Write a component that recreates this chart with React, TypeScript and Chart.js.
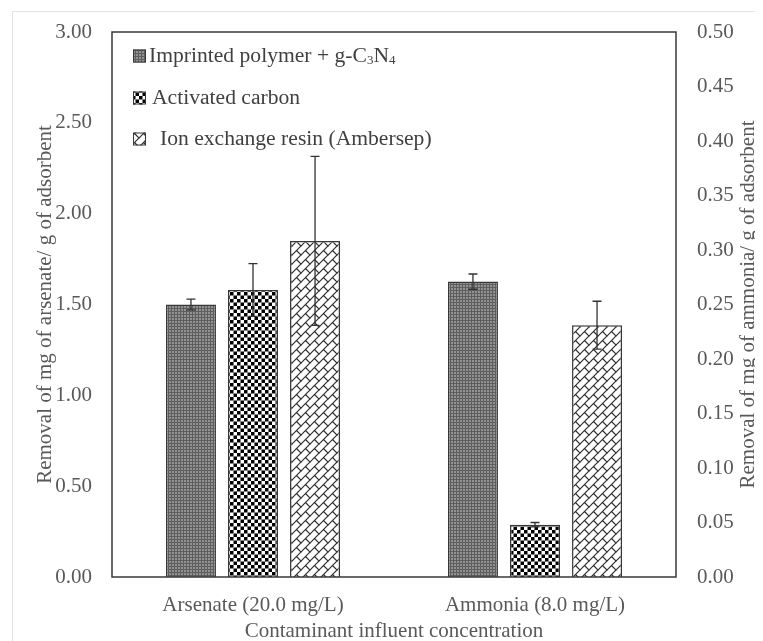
import React, { useEffect, useRef } from 'react';
import { Chart, registerables } from 'chart.js';

Chart.register(...registerables);

// ---- data ----
const categories = ['Arsenate (20.0 mg/L)', 'Ammonia (8.0 mg/L)'];
const seriesNames = ['Imprinted polymer + g-C₃N₄', 'Activated carbon', 'Ion exchange resin (Ambersep)'];
const arsenateValues = [1.5, 1.58, 1.85];
const arsenateErrors = [0.03, 0.145, 0.465];
const ammoniaValues = [0.271, 0.048, 0.231];
const ammoniaErrors = [0.007, 0.002, 0.022];
const leftAxisTitle = 'Removal of mg of arsenate/ g of adsorbent';
const rightAxisTitle = 'Removal of mg of ammonia/ g of adsorbent';
const xAxisTitle = 'Contaminant influent concentration';
const leftAxisMax = 3;
const leftAxisStep = 0.5;
const rightAxisMax = 0.5;
const rightAxisStep = 0.05;

// ---- style ----
const FONT = "'Liberation Serif', 'Times New Roman', serif";
const FONT_SIZE = 21;
const LEGEND_FONT_SIZE = 21.6;
const TEXT = '#595959';
const LEGEND_TEXT = '#404040';
const OUTLINE = '#383838';
const legendRowOffsets = [24, 66, 107];
const legendTextIndent = [0, 3, 11];

function tile(size: number, draw: (c: CanvasRenderingContext2D) => void): CanvasPattern {
  const cv = document.createElement('canvas');
  cv.width = size;
  cv.height = size;
  const c = cv.getContext('2d')!;
  draw(c);
  const ctx = document.createElement('canvas').getContext('2d')!;
  return ctx.createPattern(cv, 'repeat')!;
}

function greyPattern() {
  return tile(3, (c) => {
    c.fillStyle = '#5e5e5e';
    c.fillRect(0, 0, 3, 3);
    c.fillStyle = '#929292';
    c.fillRect(0, 0, 2, 2);
  });
}

function checkerPattern() {
  return tile(7, (c) => {
    c.fillStyle = '#ffffff';
    c.fillRect(0, 0, 7, 7);
    c.fillStyle = '#000000';
    c.fillRect(0, 0, 3.5, 3.5);
    c.fillRect(3.5, 3.5, 3.5, 3.5);
  });
}

function brickPattern() {
  const T = 9;
  return tile(T, (c) => {
    c.fillStyle = '#ffffff';
    c.fillRect(0, 0, T, T);
    c.strokeStyle = '#2e2e2e';
    c.lineWidth = 1.2;
    c.beginPath();
    c.moveTo(-1, T + 1);
    c.lineTo(T + 1, -1);
    c.moveTo(-1, 1);
    c.lineTo(1, -1);
    c.moveTo(T - 1, T + 1);
    c.lineTo(T + 1, T - 1);
    c.moveTo(T / 2, T / 2);
    c.lineTo(T + 1, T + 1);
    c.moveTo(-1, -1);
    c.lineTo(0.5, 0.5);
    c.stroke();
  });
}

const SUBS: Record<string, string> = { '₀': '0', '₁': '1', '₂': '2', '₃': '3', '₄': '4', '₅': '5', '₆': '6', '₇': '7', '₈': '8', '₉': '9' };

function drawRichText(ctx: CanvasRenderingContext2D, text: string, x: number, y: number, size: number) {
  let cx = x;
  let run = '';
  const flush = () => {
    if (!run) return;
    ctx.font = `${size}px ${FONT}`;
    ctx.fillText(run, cx, y);
    cx += ctx.measureText(run).width;
    run = '';
  };
  for (const ch of text) {
    if (SUBS[ch]) {
      flush();
      const s = Math.round(size * 0.62);
      ctx.font = `${s}px ${FONT}`;
      ctx.fillText(SUBS[ch], cx, y + size * 0.22);
      cx += ctx.measureText(SUBS[ch]).width;
    } else {
      run += ch;
    }
  }
  flush();
}

export default function App() {
  const ref = useRef<HTMLCanvasElement>(null);

  useEffect(() => {
    const canvas = ref.current!;
    const patterns = [greyPattern(), checkerPattern(), brickPattern()];

    const common = (s: number) => ({
      label: seriesNames[s],
      stack: 's' + s,
      backgroundColor: patterns[s],
      borderColor: OUTLINE,
      borderWidth: 1.5,
      skipNull: true,
      categoryPercentage: 0.66,
      barPercentage: 0.806,
    });

    const datasets: any[] = [];
    seriesNames.forEach((_, s) => {
      datasets.push({ ...common(s), data: [arsenateValues[s], null], errors: [arsenateErrors[s], null], yAxisID: 'y' });
    });
    seriesNames.forEach((_, s) => {
      datasets.push({ ...common(s), data: [null, ammoniaValues[s]], errors: [null, ammoniaErrors[s]], yAxisID: 'y1' });
    });

    const errorBars = {
      id: 'errorBars',
      afterDatasetsDraw(chart: any) {
        const ctx = chart.ctx as CanvasRenderingContext2D;
        ctx.save();
        ctx.strokeStyle = '#333333';
        ctx.lineWidth = 1.3;
        chart.data.datasets.forEach((ds: any, di: number) => {
          const meta = chart.getDatasetMeta(di);
          const scale = chart.scales[ds.yAxisID];
          ds.data.forEach((v: number | null, i: number) => {
            if (v == null) return;
            const e = ds.errors[i];
            const x = meta.data[i].x;
            const yt = scale.getPixelForValue(v + e);
            const yb = scale.getPixelForValue(v - e);
            ctx.beginPath();
            ctx.moveTo(x, yt);
            ctx.lineTo(x, yb);
            ctx.moveTo(x - 4.5, yt);
            ctx.lineTo(x + 4.5, yt);
            ctx.moveTo(x - 4.5, yb);
            ctx.lineTo(x + 4.5, yb);
            ctx.stroke();
          });
        });
        ctx.restore();
      },
    };

    const frameAndLegend = {
      id: 'frameAndLegend',
      afterDraw(chart: any) {
        const ctx = chart.ctx as CanvasRenderingContext2D;
        const a = chart.chartArea;
        ctx.save();
        // plot frame
        ctx.strokeStyle = OUTLINE;
        ctx.lineWidth = 1.5;
        ctx.strokeRect(a.left, a.top, a.right - a.left, a.bottom - a.top);
        // legend
        seriesNames.forEach((name, s) => {
          const cy = a.top + legendRowOffsets[s];
          const bx = a.left + 21;
          ctx.fillStyle = patterns[s];
          ctx.fillRect(bx, cy - 6.5, 13, 13);
          ctx.strokeStyle = OUTLINE;
          ctx.lineWidth = 1;
          ctx.strokeRect(bx + 0.5, cy - 6, 12, 12);
          ctx.fillStyle = LEGEND_TEXT;
          ctx.textBaseline = 'middle';
          ctx.textAlign = 'left';
          drawRichText(ctx, name, a.left + 37 + legendTextIndent[s], cy, LEGEND_FONT_SIZE);
        });
        // right axis title, reading upward
        const y1 = chart.scales.y1;
        ctx.translate(y1.right - 15, (a.top + a.bottom) / 2);
        ctx.rotate(-Math.PI / 2);
        ctx.font = `${FONT_SIZE}px ${FONT}`;
        ctx.fillStyle = TEXT;
        ctx.textAlign = 'center';
        ctx.textBaseline = 'middle';
        ctx.fillText(rightAxisTitle, 0, 0);
        ctx.restore();
      },
    };

    const font = { family: FONT, size: FONT_SIZE };

    const chart = new Chart(canvas, {
      type: 'bar',
      data: { labels: categories, datasets },
      options: {
        animation: false,
        responsive: false,
        devicePixelRatio: 1,
        layout: { padding: { top: 20, left: 0, right: 0, bottom: 0 } },
        plugins: { legend: { display: false }, tooltip: { enabled: false } },
        scales: {
          x: {
            grid: { display: false, drawTicks: false },
            border: { display: false },
            ticks: { font, color: TEXT, padding: 16 },
            title: { display: true, text: xAxisTitle, font, color: TEXT, padding: { top: 0, bottom: 8 } },
            afterFit: (s: any) => { s.height = 75; s.paddingLeft = 0; s.paddingRight = 0; },
          },
          y: {
            position: 'left',
            min: 0,
            max: leftAxisMax,
            stacked: false,
            grid: { display: false, drawTicks: false },
            border: { display: false },
            ticks: { stepSize: leftAxisStep, font, color: TEXT, padding: 20, callback: (v: any) => Number(v).toFixed(2) },
            title: { display: true, text: leftAxisTitle, font, color: TEXT, padding: { top: 20, bottom: 0 } },
            afterFit: (s: any) => { s.width = 99; s.paddingTop = 0; s.paddingBottom = 0; },
          },
          y1: {
            position: 'right',
            min: 0,
            max: rightAxisMax,
            stacked: false,
            grid: { display: false, drawTicks: false },
            border: { display: false },
            ticks: { stepSize: rightAxisStep, font, color: TEXT, padding: 21, callback: (v: any) => Number(v).toFixed(2) },
            title: { display: false },
            afterFit: (s: any) => { s.width = 87; s.paddingTop = 0; s.paddingBottom = 0; },
          },
        },
      } as any,
      plugins: [errorBars, frameAndLegend],
    });
    return () => chart.destroy();
  }, []);

  return (
    <div style={{ position: 'relative', width: 755, height: 633, overflow: 'hidden' }}>
      <div
        style={{
          position: 'absolute',
          left: 4,
          top: 3,
          width: 800,
          height: 700,
          border: '1px solid #e2e2e2',
        }}
      >
        <canvas ref={ref} width={750} height={640} style={{ position: 'absolute', left: 0, top: 0, width: 750, height: 640 }} />
      </div>
    </div>
  );
}
